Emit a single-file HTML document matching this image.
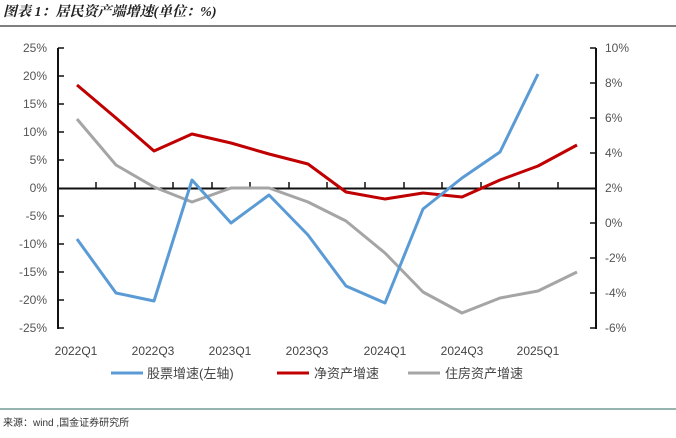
<!DOCTYPE html>
<html><head><meta charset="utf-8"><style>
body{margin:0;background:#fff;width:676px;height:433px;overflow:hidden;font-family:"Liberation Sans","Noto Sans CJK SC",sans-serif;}
</style></head><body>
<svg width="676" height="433" viewBox="0 0 676 433" xmlns="http://www.w3.org/2000/svg">
<text x="3" y="16" font-size="14" font-style="italic" font-weight="bold" fill="#222" font-family="Liberation Serif,Noto Serif CJK SC,serif">图表 1：居民资产端增速(单位：%)</text>
<line x1="0" y1="26" x2="676" y2="26" stroke="#555" stroke-width="1.5"/>
<g font-size="12" fill="#555" text-anchor="end">
<text x="47" y="52">25%</text><text x="47" y="80">20%</text><text x="47" y="108">15%</text><text x="47" y="136">10%</text><text x="47" y="164">5%</text><text x="47" y="192">0%</text><text x="47" y="220">-5%</text><text x="47" y="248">-10%</text><text x="47" y="276">-15%</text><text x="47" y="304">-20%</text><text x="47" y="332">-25%</text>
</g>
<g font-size="12" fill="#555">
<text x="605" y="52">10%</text><text x="605" y="87">8%</text><text x="605" y="122">6%</text><text x="605" y="157">4%</text><text x="605" y="192">2%</text><text x="605" y="227">0%</text><text x="605" y="262">-2%</text><text x="605" y="297">-4%</text><text x="605" y="332">-6%</text>
</g>
<g stroke="#111" stroke-width="2">
<line x1="58" y1="48" x2="58" y2="329"/>
<line x1="596" y1="48" x2="596" y2="329"/>
<line x1="58" y1="188.5" x2="596" y2="188.5"/>
</g>
<g stroke="#111" stroke-width="1.5">
<path d="M58 48h6M58 76h6M58 104h6M58 132h6M58 160h6M58 216h6M58 244h6M58 272h6M58 300h6M58 328h6"/>
<path d="M596 48h-6M596 83h-6M596 118h-6M596 153h-6M596 223h-6M596 258h-6M596 293h-6M596 328h-6"/>
<path d="M96 188v-6M135 188v-6M173 188v-6M212 188v-6M250 188v-6M289 188v-6M327 188v-6M365 188v-6M404 188v-6M442 188v-6M481 188v-6M519 188v-6M558 188v-6"/>
</g>
<g fill="none" stroke-width="3" stroke-linejoin="round">
<polyline stroke="#a5a5a5" points="77,119 116,165 154,187 192,202 231,188 269,188 308,202 346,221 385,253 423,292 462,313 500,298 538,291 577,272"/>
<polyline stroke="#c00000" points="77,85 116,118 154,151 192,134 231,143 269,154 308,164 346,192 385,199 423,193 462,197 500,180 538,166 577,145"/>
<polyline stroke="#5b9bd5" points="77,239 116,293 154,301 192,180 231,223 269,195 308,235 346,286 385,303 423,209 462,178 500,152 538,74"/>
</g>
<g font-size="12" fill="#444" text-anchor="middle">
<text x="76" y="355">2022Q1</text><text x="153" y="355">2022Q3</text><text x="230" y="355">2023Q1</text><text x="307" y="355">2023Q3</text><text x="385" y="355">2024Q1</text><text x="462" y="355">2024Q3</text><text x="538" y="355">2025Q1</text>
</g>
<g font-size="13" fill="#444">
<line x1="111" y1="373" x2="143" y2="373" stroke="#5b9bd5" stroke-width="3"/><text x="147" y="378">股票增速(左轴)</text>
<line x1="277" y1="373" x2="309" y2="373" stroke="#c00000" stroke-width="3"/><text x="314" y="378">净资产增速</text>
<line x1="408" y1="373" x2="440" y2="373" stroke="#a5a5a5" stroke-width="3"/><text x="445" y="378">住房资产增速</text>
</g>
<line x1="0" y1="409" x2="676" y2="409" stroke="#2e6b5e" stroke-width="1"/>
<text x="3" y="426" font-size="10" fill="#333">来源：wind ,国金证券研究所</text>
</svg>
</body></html>
